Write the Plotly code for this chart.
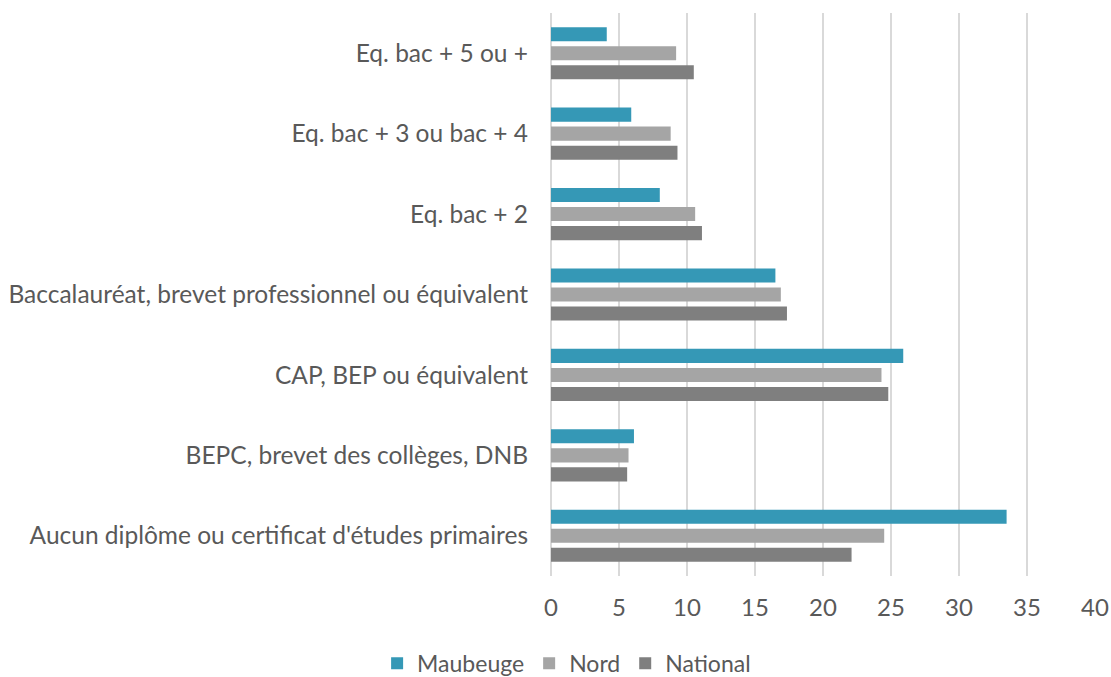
import plotly.graph_objects as go

categories = [
    "Eq. bac + 5 ou +",
    "Eq. bac + 3 ou bac + 4",
    "Eq. bac + 2",
    "Baccalauréat, brevet professionnel ou équivalent",
    "CAP, BEP ou équivalent",
    "BEPC, brevet des collèges, DNB",
    "Aucun diplôme ou certificat d'études primaires",
]
maubeuge = [4.1, 5.9, 8.0, 16.5, 25.9, 6.1, 33.5]
nord = [9.2, 8.8, 10.6, 16.9, 24.3, 5.7, 24.5]
national = [10.5, 9.3, 11.1, 17.35, 24.8, 5.6, 22.1]
x_ticks = [0, 5, 10, 15, 20, 25, 30, 35, 40]

series = [
    ("Maubeuge", maubeuge, "#3598B6"),
    ("Nord", nord, "#A5A5A5"),
    ("National", national, "#7F7F7F"),
]

fig = go.Figure()
for name, vals, color in series:
    fig.add_trace(go.Bar(
        y=categories, x=vals, name=name, orientation="h",
        marker=dict(color=color, line=dict(width=0)),
    ))

font_family = "Lato, 'Open Sans', sans-serif"
fig.update_layout(
    width=1111, height=677,
    margin=dict(l=551, r=16, t=13, b=101, autoexpand=False),
    paper_bgcolor="white", plot_bgcolor="white",
    barmode="group", bargap=0.29, bargroupgap=0.26,
    font=dict(family=font_family, size=24, color="#595959"),
    showlegend=True,
    legend=dict(
        orientation="h", xref="container", x=0.51, xanchor="center",
        yref="paper", y=-0.155, yanchor="middle",
        font=dict(size=23, color="#595959"),
        itemwidth=30, traceorder="normal",
    ),
    xaxis=dict(
        range=[0, 40], tickvals=x_ticks, showgrid=True,
        gridcolor="#D9D9D9", gridwidth=2, zeroline=True,
        zerolinecolor="#D9D9D9", zerolinewidth=2,
        showline=False, ticks="", ticklabelstandoff=15,
        tickfont=dict(size=24, color="#595959"),
        automargin=False,
    ),
    yaxis=dict(
        autorange="reversed", showgrid=False, zeroline=False,
        showline=False, ticks="", ticklabelstandoff=22,
        tickfont=dict(size=24.5, color="#595959"),
        automargin=False,
    ),
)

fig.write_html(
    "out.html",
    config={"displayModeBar": False},
    post_script="document.body.style.margin='0';document.body.style.overflow='hidden';",
)
